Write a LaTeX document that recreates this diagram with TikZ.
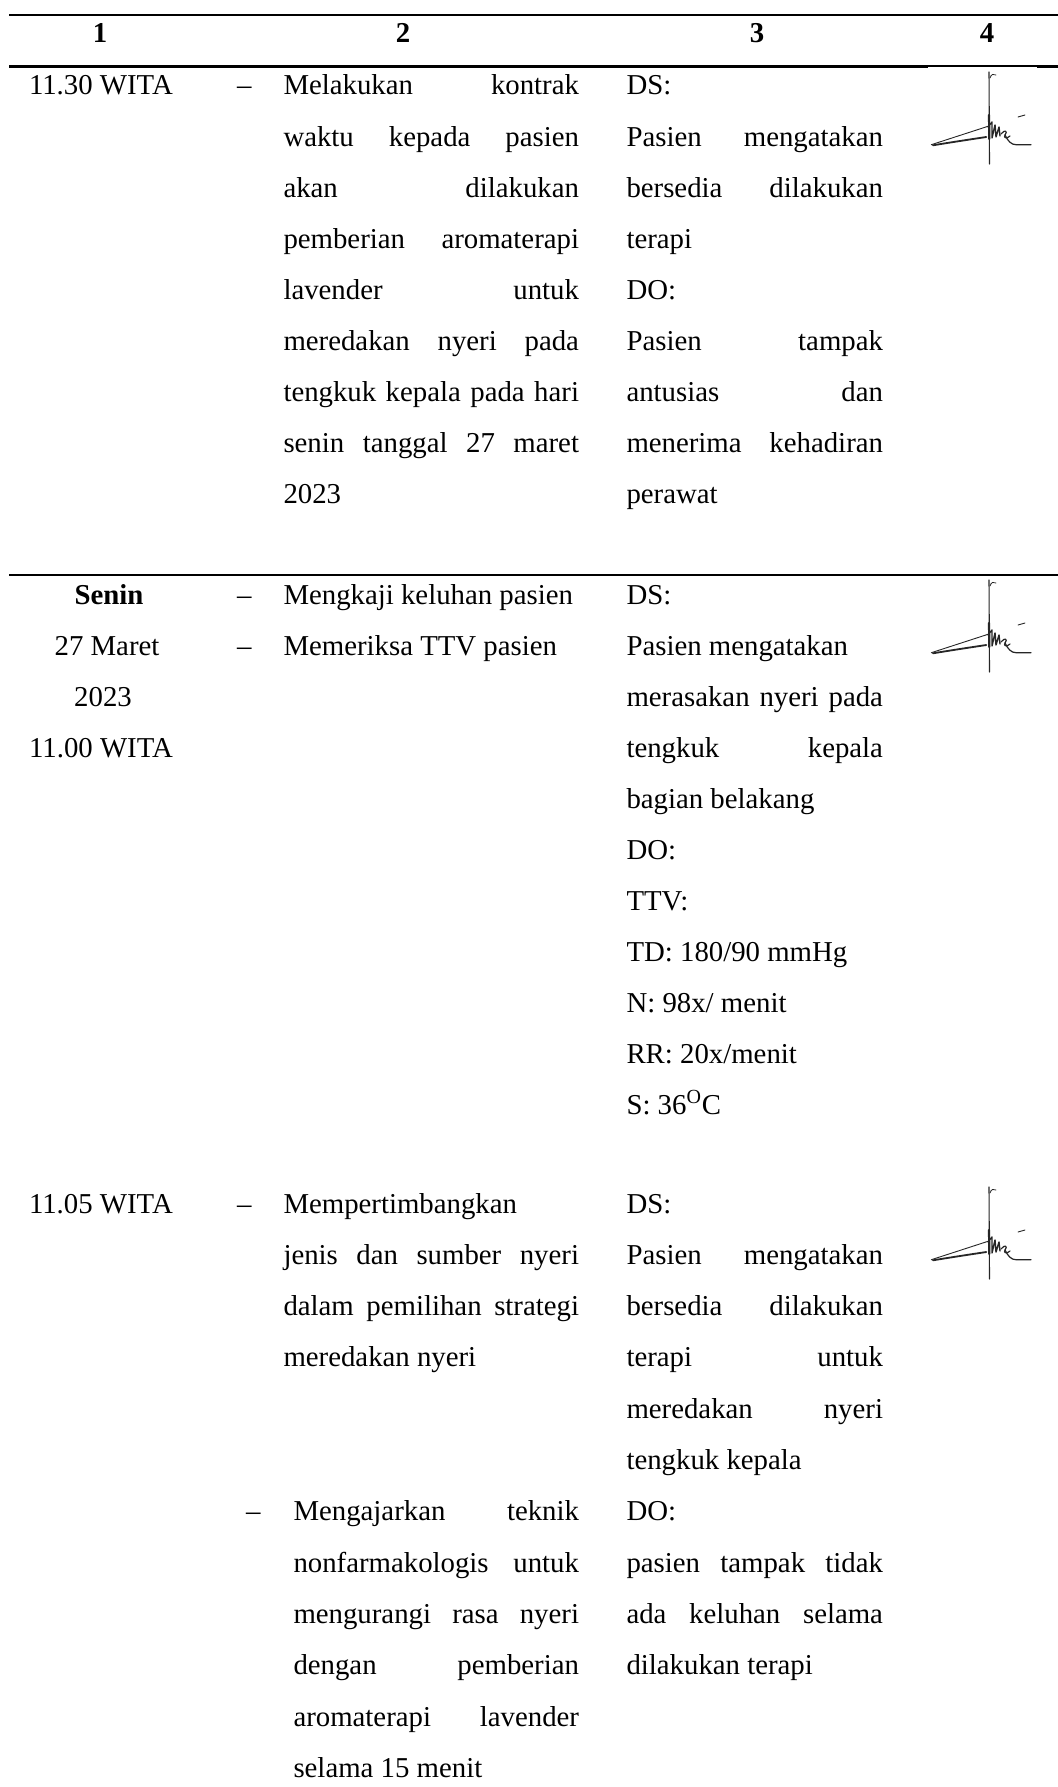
\documentclass[tikz,border=0pt]{standalone}
\usepackage{fontspec}
\setmainfont{Liberation Serif}
\newcommand\JB[1]{\makebox[147.75pt][s]{#1}}
\newcommand\JD[1]{\makebox[142.75pt][s]{#1}}
\newcommand\JC[1]{\makebox[128.25pt][s]{#1}}
\begin{document}
\begin{tikzpicture}[x=0.5pt,y=-0.5pt,
  every node/.style={inner sep=0pt,outer sep=0pt,font=\fontsize{14.4}{17}\selectfont},
  txt/.style={anchor=base west},
  ctr/.style={anchor=base},
  hdr/.style={anchor=base,font=\fontsize{14.4}{17}\selectfont\bfseries},
  rulel/.style={line width=1.2pt,line cap=butt},
  sigline/.style={draw=black!85,line cap=round,line join=round},
  sig/.pic={
    \draw[sigline,line width=0.55pt] (0,0) -- (0.5,92);
    \draw[sigline,line width=1.1pt] (0,43) -- (0.3,67);
    \draw[sigline,line width=0.4pt] (1,6) .. controls (2,2) and (5,1.5) .. (7,3);
    \draw[sigline,line width=0.45pt] (-57.7,72.7) -- (-1,54.3);
    \draw[sigline,line width=0.9pt] (-56,73.3) .. controls (-36,70) and (-16,67) .. (-2.7,65);
    \draw[sigline,line width=0.7pt] (-1,55) -- (3,50) -- (3,66) -- (6,53) -- (7,65) -- (10,55) -- (11,64);
    \draw[sigline,line width=0.6pt] (12,62) .. controls (16,57) and (19,59) .. (16,63) .. controls (14,66) and (18,67) .. (21,64);
    \draw[sigline,line width=0.6pt] (16,63) .. controls (19,69) and (22,72.7) .. (27,72.7) -- (42,72.7);
    \draw[sigline,line width=0.45pt] (29,45) -- (36,43);
  }]
\useasboundingbox (0,0) rectangle (1058,1787);
\fill[white] (0,0) rectangle (1058,1787);

% horizontal rules
\coordinate (t0) at (9,15);   \coordinate (t1) at (1058,15);
\coordinate (m0) at (9,66.5); \coordinate (m1) at (1058,66.5);
\coordinate (b0) at (9,575);  \coordinate (b1) at (1058,575);
\draw[rulel] (t0) -- (t1);
\draw[rulel] (m0) -- (m1);
\draw[rulel] (b0) -- (b1);
% signature images cover part of the rules
\fill[white] (928,67.1) rectangle (1037,70);
\fill[white] (928,575.6) rectangle (1037,578);

% header
\node[hdr] (h1) at (100,43) {1};
\node[hdr] (h2) at (403,43) {2};
\node[hdr] (h3) at (757,43) {3};
\node[hdr] (h4) at (987,43) {4};

% ---------------- row 1
\node[txt] (r1a) at (29,95) {11.30 WITA};
\node[txt] (r1d) at (237,95) {--};
\foreach \t [count=\i from 0] in {{\JB{Melakukan kontrak}},{\JB{waktu kepada pasien}},{\JB{akan dilakukan}},{\JB{pemberian aromaterapi}},{\JB{lavender untuk}},{\JB{meredakan nyeri pada}},{\JB{tengkuk kepala pada hari}},{\JB{senin tanggal 27 maret}},{2023}}
  \node[txt] (r1b\i) at (283.5,95+51.1*\i) {\t};
\foreach \t [count=\i from 0] in {{DS:},{\JC{Pasien mengatakan}},{\JC{bersedia dilakukan}},{terapi},{DO:},{\JC{Pasien tampak}},{\JC{antusias dan}},{\JC{menerima kehadiran}},{perawat}}
  \node[txt] (r1c\i) at (626.5,95+51.1*\i) {\t};
\pic at (989,72) {sig};

% ---------------- row 2
\node[hdr] (r2a0) at (109,604) {Senin};
\node[ctr] (r2a1) at (107,655) {27 Maret};
\node[ctr] (r2a2) at (103,706) {2023};
\node[ctr] (r2a3) at (101,757) {11.00 WITA};
\node[txt] (r2d0) at (237,604) {--};
\node[txt] (r2d1) at (237,655) {--};
\node[txt] (r2b0) at (283.5,604) {Mengkaji keluhan pasien};
\node[txt] (r2b1) at (283.5,655) {Memeriksa TTV pasien};
\foreach \t [count=\i from 0] in {{DS:},{Pasien mengatakan},{\JC{merasakan nyeri pada}},{\JC{tengkuk kepala}},{bagian belakang},{DO:},{TTV:},{TD: 180/90 mmHg},{N: 98x/ menit},{RR: 20x/menit},{S: 36\textsuperscript{O}C}}
  \node[txt] (r2c\i) at (626.5,604+51*\i) {\t};
\pic at (989,580) {sig};

% ---------------- row 3
\node[txt] (r3a) at (29,1213) {11.05 WITA};
\node[txt] (r3d0) at (237,1213) {--};
\foreach \t [count=\i from 0] in {{Mempertimbangkan},{\JB{jenis dan sumber nyeri}},{\JB{dalam pemilihan strategi}},{meredakan nyeri}}
  \node[txt] (r3b\i) at (283.5,1213+51.3*\i) {\t};
\node[txt] (r3d1) at (246,1520.8) {--};
\foreach \t [count=\i from 0] in {{\JD{Mengajarkan teknik}},{\JD{nonfarmakologis untuk}},{\JD{mengurangi rasa nyeri}},{\JD{dengan pemberian}},{\JD{aromaterapi lavender}},{selama 15 menit}}
  \node[txt] (r3e\i) at (293.5,1520.8+51.3*\i) {\t};
\foreach \t [count=\i from 0] in {{DS:},{\JC{Pasien mengatakan}},{\JC{bersedia dilakukan}},{\JC{terapi untuk}},{\JC{meredakan nyeri}},{tengkuk kepala},{DO:},{\JC{pasien tampak tidak}},{\JC{ada keluhan selama}},{dilakukan terapi}}
  \node[txt] (r3c\i) at (626.5,1213+51.3*\i) {\t};
\pic at (989,1187) {sig};
\end{tikzpicture}
\end{document}
